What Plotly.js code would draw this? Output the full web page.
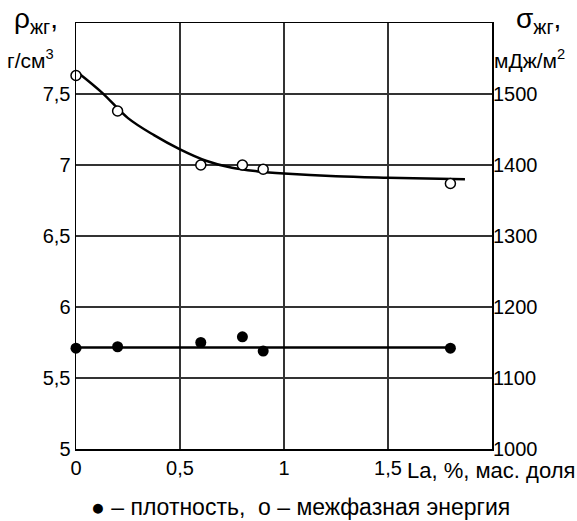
<!DOCTYPE html>
<html>
<head>
<meta charset="utf-8">
<script src="https://cdn.plot.ly/plotly-3.0.1.min.js"></script>
<style>html,body{margin:0;padding:0;background:#fff;}#chart{width:577px;height:521px;}</style>
</head>
<body>
<div id="chart"></div>
<script>
// Data
const densX = [0, 0.2, 0.6, 0.8, 0.9, 1.8];
const densY = [5.71, 5.72, 5.75, 5.79, 5.69, 5.71];
const densFitX = [0, 1.8];
const densFitY = [5.715, 5.715];
const energyX = [0, 0.2, 0.6, 0.8, 0.9, 1.8];
const energyY = [1526, 1476, 1400, 1400, 1394, 1374];
const curveX = [0.01, 0.125, 0.25, 0.375, 0.5, 0.625, 0.75, 0.875, 1.0, 1.25, 1.5, 1.87];
const curveY = [1530, 1502, 1466, 1442, 1422, 1406, 1396, 1391, 1388, 1384, 1382, 1380];
const xTickVals = [0, 0.5, 1, 1.5];
const xTickText = ['0', '0,5', '1', '1,5'];
const yTickVals = [5, 5.5, 6, 6.5, 7, 7.5];
const yTickText = ['5', '5,5', '6', '6,5', '7', '7,5'];
const y2TickVals = [1000, 1100, 1200, 1300, 1400, 1500];
const y2TickText = ['1000', '1100', '1200', '1300', '1400', '1500'];

const F = 'Liberation Sans, Arial, sans-serif';
const traces = [
  {x: densFitX, y: densFitY, mode: 'lines', line: {color: '#000', width: 2.5}, yaxis: 'y', hoverinfo: 'skip'},
  {x: densX, y: densY, mode: 'markers', marker: {color: '#000', size: 11}, yaxis: 'y', cliponaxis: false},
  {x: curveX, y: curveY, mode: 'lines', line: {color: '#000', width: 2.5, shape: 'spline', smoothing: 1}, yaxis: 'y2'},
  {x: energyX, y: energyY, mode: 'markers', marker: {color: '#fff', size: 10, line: {color: '#000', width: 1.5}}, yaxis: 'y2', cliponaxis: false}
];
const layout = {
  width: 577, height: 521,
  margin: {l: 76, r: 85, t: 23, b: 72},
  paper_bgcolor: '#fff', plot_bgcolor: '#fff',
  showlegend: false,
  font: {family: F, size: 20, color: '#000'},
  xaxis: {range: [0, 2], tickvals: xTickVals, ticktext: xTickText, showgrid: true, gridcolor: '#333', gridwidth: 1.5,
          showline: true, mirror: true, linecolor: '#000', linewidth: 1.5, zeroline: false, ticks: '', fixedrange: true,
          tickfont: {family: F, size: 20}},
  yaxis: {range: [5, 8], tickvals: yTickVals, ticktext: yTickText, showgrid: true, gridcolor: '#333', gridwidth: 1.5,
          showline: true, mirror: true, linecolor: '#000', linewidth: 1.5, zeroline: false, ticks: '', fixedrange: true,
          tickfont: {family: F, size: 20}},
  yaxis2: {range: [1000, 1600], tickvals: y2TickVals, ticktext: y2TickText, overlaying: 'y', side: 'right', showgrid: false,
           zeroline: false, ticks: '', showline: false, fixedrange: true, tickfont: {family: F, size: 20}},
  annotations: [
    {xref: 'paper', yref: 'paper', x: -0.154, y: 1.052, xanchor: 'left', yanchor: 'top', showarrow: false,
     text: 'ρ<sub>жг</sub>,', font: {family: F, size: 28}},
    {xref: 'paper', yref: 'paper', x: -0.171, y: 0.915, xanchor: 'left', yanchor: 'middle', showarrow: false,
     text: 'г/см<sup>3</sup>', font: {family: F, size: 21}},
    {xref: 'paper', yref: 'paper', x: 1.052, y: 1.052, xanchor: 'left', yanchor: 'top', showarrow: false,
     text: 'σ<sub>жг</sub>,', font: {family: F, size: 28}},
    {xref: 'paper', yref: 'paper', x: 1.0, y: 0.915, xanchor: 'left', yanchor: 'middle', showarrow: false,
     text: 'мДж/м<sup>2</sup>', font: {family: F, size: 21}},
    {xref: 'paper', yref: 'paper', x: 1.205, y: -0.05, xanchor: 'right', yanchor: 'middle', showarrow: false,
     text: 'La, %, мас. доля', font: {family: F, size: 22}},
    {xref: 'paper', yref: 'paper', x: 0.54, y: -0.135, xanchor: 'center', yanchor: 'middle', showarrow: false,
     text: '● – плотность,  o – межфазная энергия', font: {family: F, size: 23}}
  ]
};
Plotly.newPlot('chart', traces, layout, {displayModeBar: false, staticPlot: true});
</script>
</body>
</html>
